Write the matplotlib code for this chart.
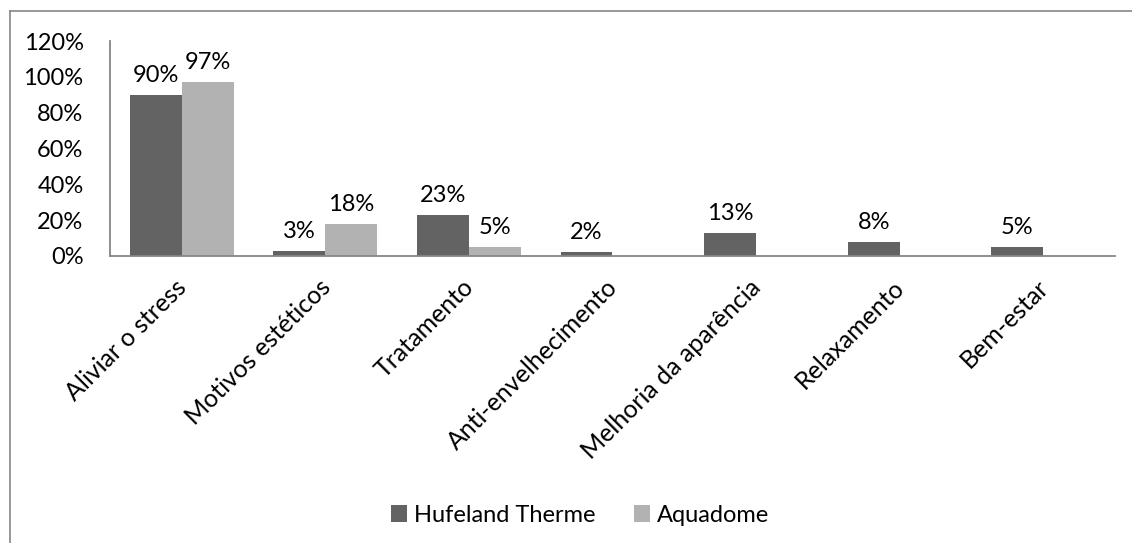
import matplotlib.pyplot as plt
import numpy as np
from matplotlib.lines import Line2D
from matplotlib.transforms import ScaledTranslation

plt.rcParams['font.family'] = ['Lato', 'DejaVu Sans']

categorias = ['Aliviar o stress', 'Motivos estéticos', 'Tratamento', 'Anti-envelhecimento',
              'Melhoria da aparência', 'Relaxamento', 'Bem-estar']
hufeland = [90, 3, 23, 2, 13, 8, 5]
aquadome = [97, 18, 5, None, None, None, None]
series = ['Hufeland Therme', 'Aquadome']
yticks = [0, 20, 40, 60, 80, 100, 120]

dark = '#636363'
light = '#b2b2b2'
axcol = '#868686'
fs = 17

fig = plt.figure(figsize=(11.32, 5.43), dpi=100)
ax = fig.add_axes([110 / 1132, 1 - 256 / 543, (1115 - 110) / 1132, (256 - 41) / 543])

x = np.arange(len(categorias))
w = 0.362
h_vals = np.array(hufeland, dtype=float)
a_vals = np.array([np.nan if v is None else v for v in aquadome], dtype=float)
b1 = ax.bar(x - w / 2, h_vals, w, color=dark, label=series[0])
b2 = ax.bar(x + w / 2, np.nan_to_num(a_vals), w, color=light, label=series[1])

for xi, v in zip(x, h_vals):
    ax.text(xi - w / 2, v + 5, f'{v:.0f}%', ha='center', va='bottom', fontsize=fs)
for xi, v in zip(x, a_vals):
    if not np.isnan(v):
        ax.text(xi + w / 2, v + 5, f'{v:.0f}%', ha='center', va='bottom', fontsize=fs)

ax.set_xlim(-0.5, len(categorias) - 0.5)
ax.set_ylim(0, 120)
ax.set_yticks(yticks)
ax.set_yticklabels([f'{t}%' for t in yticks], fontsize=fs)
ax.set_xticks(x)
ax.set_xticklabels(categorias, rotation=45, ha='right', va='top', rotation_mode='anchor', fontsize=18)
ax.tick_params(axis='y', length=0, pad=19)
ax.tick_params(axis='x', length=0, pad=14)
shift = ScaledTranslation(-7 / 100, 0, fig.dpi_scale_trans)
for lbl in ax.get_xticklabels():
    lbl.set_transform(lbl.get_transform() + shift)
for s in ['top', 'right']:
    ax.spines[s].set_visible(False)
for s in ['left', 'bottom']:
    ax.spines[s].set_color(axcol)
    ax.spines[s].set_linewidth(1.3)

leg = fig.legend(handles=[b1, b2], labels=series, loc='center', bbox_to_anchor=(580 / 1132, 1 - 515 / 543),
                 ncol=2, frameon=False, fontsize=fs, handlelength=0.7, handleheight=0.7,
                 handletextpad=0.3, columnspacing=1.6)

# chart area border (left and top visible)
fig.add_artist(Line2D([9.5 / 1132, 9.5 / 1132], [0, 1 - 11 / 543], transform=fig.transFigure, color=axcol, lw=1.2))
fig.add_artist(Line2D([9.5 / 1132, 1], [1 - 11 / 543, 1 - 11 / 543], transform=fig.transFigure, color=axcol, lw=1.2))

fig.savefig('out.png', dpi=100)
